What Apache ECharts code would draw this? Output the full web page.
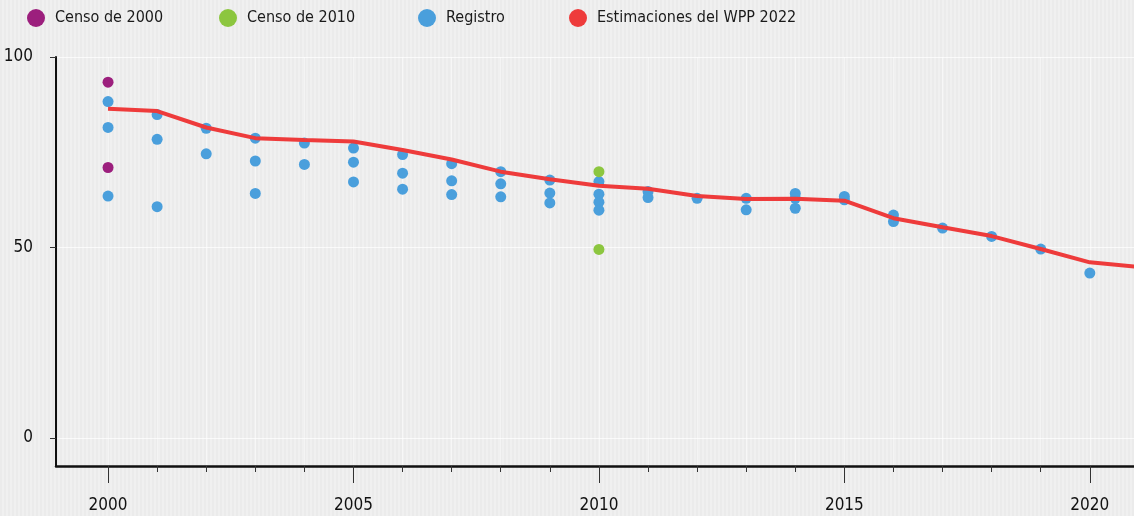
<!DOCTYPE html>
<html>
<head>
<meta charset="utf-8">
<script src="https://cdn.jsdelivr.net/npm/echarts@6/dist/echarts.min.js"></script>
<style>
html,body{margin:0;padding:0;width:1134px;height:516px;overflow:hidden;
background:#ececec;
background-image:repeating-linear-gradient(90deg,#ebebeb 0px,#ebebeb 2px,#f0f0f0 2px,#f0f0f0 4px);}
#chart{width:1134px;height:516px;}
</style>
</head>
<body>
<div id="chart"></div>
<script>
const FONT = "'DejaVu Sans Condensed','Liberation Sans Narrow','Roboto',sans-serif";

// Category/axis values
const yTickValues = [0, 50, 100];
const xMajorTicks = [2000, 2005, 2010, 2015, 2020];
const xMinorTicks = [2000,2001,2002,2003,2004,2005,2006,2007,2008,2009,2010,2011,2012,2013,2014,2015,2016,2017,2018,2019,2020];

// Census 2000
const censo2000Years = [2000, 2000];
const censo2000Values = [93.4, 71.0];

// Census 2010
const censo2010Years = [2010, 2010];
const censo2010Values = [69.9, 49.5];

// Registro
const registroYears = [
  2000,2000,2000,
  2001,2001,2001,
  2002,2002,
  2003,2003,2003,
  2004,2004,
  2005,2005,2005,
  2006,2006,2006,
  2007,2007,2007,
  2008,2008,2008,
  2009,2009,2009,
  2010,2010,2010,2010,
  2011,2011,
  2012,
  2013,2013,
  2014,2014,2014,
  2015,2015,
  2016,2016,
  2017,
  2018,
  2019,
  2020
];
const registroValues = [
  88.3,81.5,63.5,
  84.9,78.4,60.7,
  81.3,74.6,
  78.7,72.7,64.2,
  77.4,71.8,
  76.1,72.4,67.2,
  74.4,69.5,65.3,
  72.0,67.5,63.9,
  69.9,66.7,63.3,
  67.7,64.3,61.7,
  67.3,64.0,61.9,59.8,
  64.7,63.1,
  62.9,
  62.9,59.9,
  64.2,62.9,60.3,
  63.4,62.5,
  58.5,56.8,
  55.1,
  52.9,
  49.6,
  43.3
];

// WPP 2022 estimates
const wppYears = [2000,2001,2002,2003,2004,2005,2006,2007,2008,2009,2010,2011,2012,2013,2014,2015,2016,2017,2018,2019,2020,2021];
const wppValues = [86.4,85.8,81.5,78.7,78.2,77.8,75.6,73.1,69.9,67.9,66.2,65.4,63.5,62.7,62.8,62.3,57.7,55.3,53.0,49.6,46.1,44.9];

const pairs = (xs, ys) => xs.map((x, i) => [x, ys[i]]);

const COLORS = {
  c2000: '#9c1f7d',
  c2010: '#8cc63f',
  reg: '#4a9fdc',
  wpp: '#ee3b3b'
};

const XMIN = 1998.94, XMAX = 2020.9, YMIN = -7.35, YMAX = 100;

const legendBase = (name, left, color) => ({
  show: true,
  left: left,
  top: 9,
  padding: 0,
  itemWidth: 18,
  itemHeight: 18,
  icon: 'circle',
  data: [{name: name, icon: 'circle', itemStyle: {color: color}}],
  textStyle: {fontFamily: FONT, fontSize: 16, color: '#1a1a1a', padding: [0,0,0,5]}
});

const chart = echarts.init(document.getElementById('chart'), null, {renderer: 'canvas'});
chart.setOption({
  backgroundColor: 'transparent',
  animation: false,
  legend: [
    legendBase('Censo de 2000', 27, COLORS.c2000),
    legendBase('Censo de 2010', 219, COLORS.c2010),
    legendBase('Registro', 418, COLORS.reg),
    legendBase('Estimaciones del WPP 2022', 569, COLORS.wpp)
  ],
  grid: {left: 56, right: 0, top: 57, bottom: 50, containLabel: false},
  xAxis: [
    {
      type: 'value', min: XMIN, max: XMAX, position: 'bottom',
      axisLine: {show: true, onZero: false, lineStyle: {color: '#111', width: 2.5}},
      axisTick: {show: true, customValues: xMinorTicks, length: 6, lineStyle: {color: '#333', width: 1}},
      axisLabel: {show: false},
      splitLine: {show: true, lineStyle: {color: 'rgba(255,255,255,0.45)', width: 1}}
    },
    {
      type: 'value', min: XMIN, max: XMAX, position: 'bottom',
      axisLine: {show: false, onZero: false},
      axisTick: {show: true, customValues: xMajorTicks, length: 17, lineStyle: {color: '#333', width: 1}},
      axisLabel: {show: true, customValues: xMajorTicks, margin: 31, formatter: v => String(v),
        fontFamily: FONT, fontSize: 17, color: '#111'},
      splitLine: {show: false}
    }
  ],
  yAxis: {
    type: 'value', min: YMIN, max: YMAX,
    axisLine: {show: true, onZero: false, lineStyle: {color: '#111', width: 2}},
    axisTick: {show: true, customValues: yTickValues, length: 6, lineStyle: {color: '#333', width: 1}},
    axisLabel: {show: true, customValues: yTickValues, margin: 23, formatter: v => String(v),
      fontFamily: FONT, fontSize: 17, color: '#111'},
    splitLine: {show: true, lineStyle: {color: 'rgba(255,255,255,0.7)', width: 1}}
  },
  series: [
    {
      name: 'Estimaciones del WPP 2022', type: 'line', xAxisIndex: 0,
      data: pairs(wppYears, wppValues), showSymbol: false, symbol: 'none',
      lineStyle: {color: COLORS.wpp, width: 4}, itemStyle: {color: COLORS.wpp}, z: 3
    },
    {
      name: 'Registro', type: 'scatter', xAxisIndex: 0,
      data: pairs(registroYears, registroValues), symbolSize: 11,
      itemStyle: {color: COLORS.reg, opacity: 1}, z: 2
    },
    {
      name: 'Censo de 2000', type: 'scatter', xAxisIndex: 0,
      data: pairs(censo2000Years, censo2000Values), symbolSize: 11,
      itemStyle: {color: COLORS.c2000, opacity: 1}, z: 2
    },
    {
      name: 'Censo de 2010', type: 'scatter', xAxisIndex: 0,
      data: pairs(censo2010Years, censo2010Values), symbolSize: 11,
      itemStyle: {color: COLORS.c2010, opacity: 1}, z: 2
    }
  ]
});
</script>
</body>
</html>
